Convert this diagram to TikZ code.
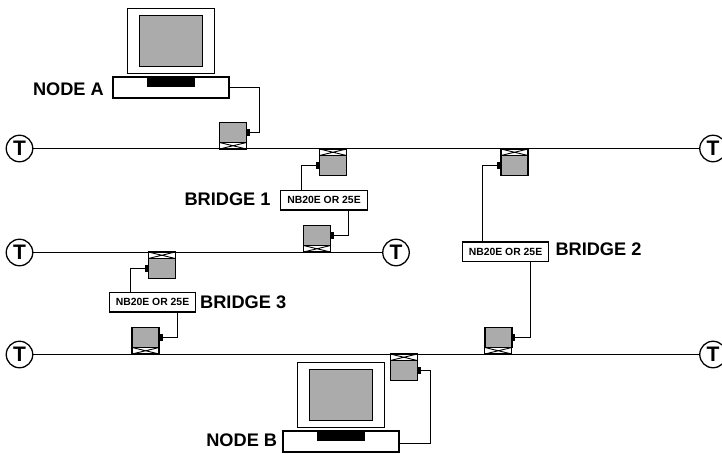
\documentclass[tikz,border=0pt]{standalone}
\usepackage{fontspec}
\setmainfont{Liberation Sans}
\usepackage{tikz}
\usetikzlibrary{positioning}

\tikzset{
  termnode/.style={draw, circle, fill=white, line width=1.3pt, minimum size=26.5pt, inner sep=0pt, font=\fontsize{21}{22}\selectfont\bfseries},
  tagtext/.style={inner sep=0pt, font=\fontsize{18.2}{20}\selectfont\bfseries},
  bridgebox/.style={draw, fill=white, line width=1.2pt, minimum width=86.5pt, minimum height=19.5pt, inner sep=0pt, font=\fontsize{10.4}{12}\selectfont\bfseries},
  tapgray/.style={draw, fill=black!33, line width=1.4pt, minimum width=27pt, minimum height=20pt, inner sep=0pt, outer sep=0pt},
  tapcross/.style={draw, fill=white, line width=1.3pt, minimum width=27pt, minimum height=6.5pt, inner sep=0pt, outer sep=0pt,
    path picture={\draw[line width=0.9pt] (path picture bounding box.north west) -- (path picture bounding box.south east)
      (path picture bounding box.south west) -- (path picture bounding box.north east);}},
  tapnub/.style={fill=black, minimum width=3.6pt, minimum height=7.5pt, inner sep=0pt, outer sep=0pt},
  wire/.style={line width=1.3pt},
  screenbox/.style={draw, fill=white, line width=1.2pt, minimum width=87pt, minimum height=65pt, inner sep=0pt},
  glassbox/.style={draw, fill=black!33, line width=1.4pt, minimum width=63pt, minimum height=51pt, inner sep=0pt},
  basebox/.style={draw, fill=white, line width=1.2pt, minimum width=116pt, minimum height=21pt, inner sep=0pt},
  slotbox/.style={fill=black, minimum width=48.5pt, minimum height=9pt, inner sep=0pt}
}

% #1 name, #2 x, #3 y of gray part, #4 side of the nub
\newcommand{\tapabove}[4]{
  \node[tapgray] (#1) at (#2,#3) {};
  \node[tapcross, below=0pt of #1] (#1x) {};
  \node[tapnub, #4=0pt of #1] (#1n) {};
}
\newcommand{\tapbelow}[4]{
  \node[tapgray] (#1) at (#2,#3) {};
  \node[tapcross, above=0pt of #1] (#1x) {};
  \node[tapnub, #4=0pt of #1] (#1n) {};
}
% #1 name, #2 x, #3 y of the screen, #4 y of the base
\newcommand{\station}[4]{
  \node[screenbox] (#1s) at (#2,#3) {};
  \node[glassbox] (#1g) at (#1s) {};
  \node[basebox] (#1b) at (#2,#4) {};
  \node[slotbox, below=1pt of #1b.north] (#1k) {};
}

\begin{document}
\begin{tikzpicture}[x=1pt,y=-1pt]
\useasboundingbox (0,0) rectangle (722,453);
\clip (0,0) rectangle (722,453);

% Terminators
\node[termnode] (t1l) at (19.5,148.5) {T};
\node[termnode] (t1r) at (713,148.5) {T};
\node[termnode] (t2l) at (19.5,252.5) {T};
\node[termnode] (t2r) at (396,252.5) {T};
\node[termnode] (t3l) at (19.5,354.5) {T};
\node[termnode] (t3r) at (713,354.5) {T};

% Bus lines
\draw[wire] (t1l) -- (t1r);
\draw[wire] (t2l) -- (t2r);
\draw[wire] (t3l) -- (t3r);

% Stations
\station{nodea}{171}{41.2}{87.5}
\station{nodeb}{341}{394.7}{441.5}
\node[tagtext, anchor=east] (labela) at (104,89) {NODE A};
\node[tagtext, anchor=east] (labelb) at (277.3,440.7) {NODE B};

% Bridges
\node[bridgebox] (bridge1) at (324,200.2) {NB20E OR 25E};
\node[bridgebox] (bridge2) at (505.5,251.8) {NB20E OR 25E};
\node[bridgebox] (bridge3) at (152.5,302.2) {NB20E OR 25E};
\node[tagtext, anchor=east] (label1) at (270.7,199) {BRIDGE 1};
\node[tagtext, anchor=west] (label2) at (555.3,249.3) {BRIDGE 2};
\node[tagtext, anchor=west] (label3) at (200,302.7) {BRIDGE 3};

% Taps on the bus lines
\tapabove{tapa}{233}{132.5}{right}
\tapbelow{tapb}{403.8}{370.5}{right}
\tapbelow{tap1u}{333}{165.5}{left}
\tapabove{tap1d}{317}{235.5}{right}
\tapbelow{tap2u}{514.5}{165.5}{left}
\tapabove{tap2d}{498.3}{337.5}{right}
\tapbelow{tap3u}{161.8}{268.5}{left}
\tapabove{tap3d}{145.6}{337.5}{right}

% Cables
\draw[wire] (nodeab.east) -- ++(29.9,0) |- (tapan.east);
\draw[wire] ([yshift=-2pt]nodebb.east) -- ++(30.9,0) |- (tapbn.east);
\draw[wire] (tap1un.west) -| ([xshift=-22.5pt]bridge1.north);
\draw[wire] (tap1dn.east) -| ([xshift=24.5pt]bridge1.south);
\draw[wire] (tap2un.west) -| ([xshift=-23pt]bridge2.north);
\draw[wire] (tap2dn.east) -| ([xshift=25pt]bridge2.south);
\draw[wire] (tap3un.west) -| ([xshift=-22pt]bridge3.north);
\draw[wire] (tap3dn.east) -| ([xshift=25pt]bridge3.south);
\end{tikzpicture}
\end{document}
